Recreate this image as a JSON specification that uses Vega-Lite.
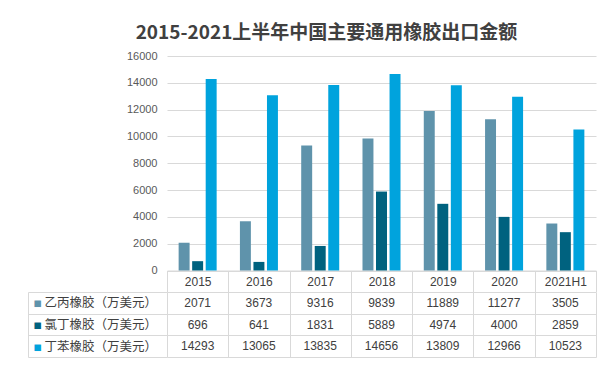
{
  "$schema": "https://vega.github.io/schema/vega-lite/v6.json",
  "padding": {"left": 27, "top": 24, "right": 10, "bottom": 5},
  "background": "white",
  "bounds": "flush",
  "spacing": 21,
  "title": {
    "text": "2015-2021上半年中国主要通用橡胶出口金额",
    "font": "Noto Sans CJK SC",
    "fontSize": 19,
    "fontWeight": "bold",
    "color": "#404040",
    "anchor": "middle",
    "frame": "group",
    "dx": -55,
    "offset": 7
  },
  "datasets": {
    "d": [
      {"year": "2015", "series": "乙丙橡胶（万美元）", "value": 2071},
      {"year": "2015", "series": "氯丁橡胶（万美元）", "value": 696},
      {"year": "2015", "series": "丁苯橡胶（万美元）", "value": 14293},
      {"year": "2016", "series": "乙丙橡胶（万美元）", "value": 3673},
      {"year": "2016", "series": "氯丁橡胶（万美元）", "value": 641},
      {"year": "2016", "series": "丁苯橡胶（万美元）", "value": 13065},
      {"year": "2017", "series": "乙丙橡胶（万美元）", "value": 9316},
      {"year": "2017", "series": "氯丁橡胶（万美元）", "value": 1831},
      {"year": "2017", "series": "丁苯橡胶（万美元）", "value": 13835},
      {"year": "2018", "series": "乙丙橡胶（万美元）", "value": 9839},
      {"year": "2018", "series": "氯丁橡胶（万美元）", "value": 5889},
      {"year": "2018", "series": "丁苯橡胶（万美元）", "value": 14656},
      {"year": "2019", "series": "乙丙橡胶（万美元）", "value": 11889},
      {"year": "2019", "series": "氯丁橡胶（万美元）", "value": 4974},
      {"year": "2019", "series": "丁苯橡胶（万美元）", "value": 13809},
      {"year": "2020", "series": "乙丙橡胶（万美元）", "value": 11277},
      {"year": "2020", "series": "氯丁橡胶（万美元）", "value": 4000},
      {"year": "2020", "series": "丁苯橡胶（万美元）", "value": 12966},
      {"year": "2021H1", "series": "乙丙橡胶（万美元）", "value": 3505},
      {"year": "2021H1", "series": "氯丁橡胶（万美元）", "value": 2859},
      {"year": "2021H1", "series": "丁苯橡胶（万美元）", "value": 10523}
    ]
  },
  "vconcat": [
    {
      "width": 429,
      "height": 214.5,
      "data": {"name": "d"},
      "mark": {"type": "bar"},
      "encoding": {
        "x": {
          "field": "year", "type": "nominal", "sort": null,
          "scale": {"paddingInner": 0, "paddingOuter": 0},
          "axis": {
            "title": null, "domain": true, "domainColor": "#d9d9d9",
            "ticks": true, "tickBand": "extent", "tickSize": 21, "tickColor": "#d9d9d9",
            "grid": false, "labelAngle": 0, "labelBaseline": "middle", "labelPadding": -10.5,
            "labelFont": "Liberation Sans", "labelFontSize": 12, "labelColor": "#404040"
          }
        },
        "xOffset": {
          "field": "series", "type": "nominal",
          "sort": ["乙丙橡胶（万美元）", "氯丁橡胶（万美元）", "丁苯橡胶（万美元）"],
          "scale": {"paddingInner": 0.19, "paddingOuter": 0.86}
        },
        "y": {
          "field": "value", "type": "quantitative",
          "scale": {"domain": [0, 16000], "nice": false},
          "axis": {
            "title": null, "values": [0, 2000, 4000, 6000, 8000, 10000, 12000, 14000, 16000],
            "format": "d", "domain": false, "ticks": false, "grid": true, "gridColor": "#d9d9d9",
            "labelFont": "Liberation Sans", "labelFontSize": 11, "labelColor": "#595959", "labelPadding": 10
          }
        },
        "color": {
          "field": "series", "type": "nominal",
          "scale": {
            "domain": ["乙丙橡胶（万美元）", "氯丁橡胶（万美元）", "丁苯橡胶（万美元）"],
            "range": ["#5f93ab", "#00627f", "#00a3dd"]
          },
          "legend": null
        }
      }
    },
    {
      "width": 429,
      "height": 65,
      "data": {"name": "d"},
      "layer": [
        {
          "mark": {"type": "text", "font": "Liberation Sans", "fontSize": 12, "color": "#404040"},
          "encoding": {
            "x": {
              "field": "year", "type": "nominal", "sort": null,
              "scale": {"paddingInner": 0, "paddingOuter": 0},
              "axis": {
                "title": null, "grid": true, "gridColor": "#d9d9d9", "tickBand": "extent",
                "labels": false, "ticks": false, "domain": false
              }
            },
            "y": {
              "field": "series", "type": "nominal",
              "sort": ["乙丙橡胶（万美元）", "氯丁橡胶（万美元）", "丁苯橡胶（万美元）"],
              "scale": {"paddingInner": 0, "paddingOuter": 0},
              "axis": {
                "title": null, "orient": "left", "grid": true, "gridColor": "#d9d9d9", "tickBand": "extent",
                "ticks": true, "tickSize": 139, "tickColor": "#d9d9d9", "domain": false,
                "labels": true, "labelAlign": "left", "labelBaseline": "middle", "labelPadding": -16,
                "labelFont": "Noto Sans CJK SC", "labelFontSize": 12.5, "labelColor": "#404040",
                "labelLimit": 300
              }
            },
            "text": {"field": "value", "type": "quantitative", "format": "d"}
          }
        },
        {
          "mark": {"type": "point", "opacity": 0},
          "encoding": {
            "x": {"field": "year", "type": "nominal", "sort": null, "scale": {"paddingInner": 0, "paddingOuter": 0}},
            "y": {
              "field": "series", "type": "nominal",
              "sort": ["乙丙橡胶（万美元）", "氯丁橡胶（万美元）", "丁苯橡胶（万美元）"],
              "scale": {"paddingInner": 0, "paddingOuter": 0},
              "axis": {
                "title": null, "orient": "left", "offset": 139, "grid": false,
                "domain": true, "domainColor": "#d9d9d9", "ticks": false,
                "labels": true, "labelExpr": "'■'", "labelAlign": "left", "labelBaseline": "middle",
                "labelPadding": -5, "labelFont": "DejaVu Sans", "labelFontSize": 8.5,
                "labelColor": {
                  "condition": [
                    {"test": "datum.value === '乙丙橡胶（万美元）'", "value": "#5f93ab"},
                    {"test": "datum.value === '氯丁橡胶（万美元）'", "value": "#00627f"}
                  ],
                  "value": "#00a3dd"
                }
              }
            }
          }
        }
      ],
      "resolve": {"scale": {"y": "independent"}, "axis": {"y": "independent"}}
    }
  ],
  "config": {
    "view": {"stroke": null}
  }
}
